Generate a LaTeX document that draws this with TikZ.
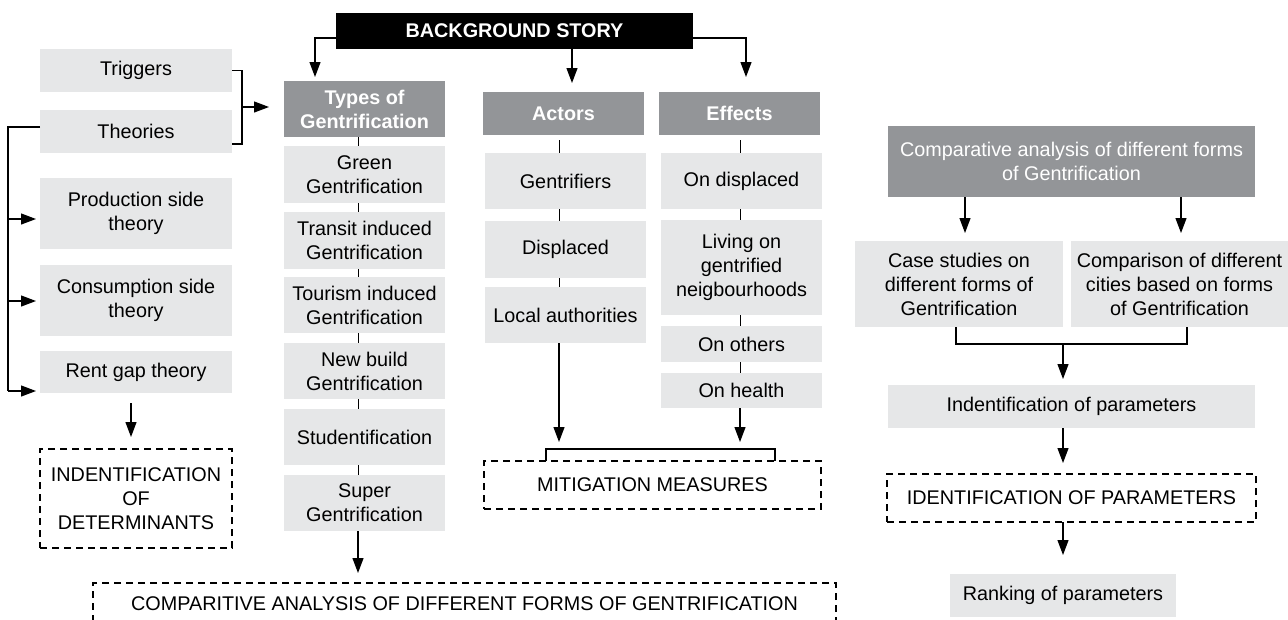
\documentclass[tikz,border=0pt]{standalone}
\usepackage{fontspec}
\setmainfont{Liberation Sans}
\usetikzlibrary{arrows.meta}
\definecolor{hdr}{RGB}{147,149,152}
\definecolor{lgr}{RGB}{230,231,232}
\begin{document}
\begin{tikzpicture}[x=1pt,y=-1pt,
  every node/.style={font=\fontsize{19.8}{24}\selectfont, align=center, inner sep=0pt, outer sep=0pt},
  lbox/.style={fill=lgr, text=black},
  hbox/.style={fill=hdr, text=white},
  bld/.style={font=\fontsize{19.8}{24}\selectfont\bfseries},
  dbox/.style={draw, dash pattern=on 7pt off 5pt, line width=1.2pt},
  arr/.style={-{Triangle[length=15pt,width=11pt]}, line width=1.2pt},
  ln/.style={line width=1.2pt}]
\useasboundingbox (0,0) rectangle (1288,619);

% top
\node[fill=black, text=white, bld, minimum width=357pt, minimum height=36pt] (bg) at (514.5,31) {BACKGROUND STORY};

% left column
\node[lbox, minimum width=192pt, minimum height=43pt] (trig) at (136,70.5) {Triggers};
\node[lbox, minimum width=192pt, minimum height=43pt] (theo) at (136,131.5) {Theories};
\node[lbox, minimum width=192pt, minimum height=71pt] (prod) at (136,213.5) {Production side\\theory};
\node[lbox, minimum width=192pt, minimum height=71pt] (cons) at (136,300.5) {Consumption side\\theory};
\node[lbox, minimum width=192pt, minimum height=42pt] (rent) at (136,372) {Rent gap theory};
\node[dbox, minimum width=192pt, minimum height=99pt] (det) at (136,498.5) {INDENTIFICATION\\OF\\DETERMINANTS};

% types column
\node[hbox, bld, minimum width=161pt, minimum height=56pt] (types) at (364.5,109) {Types of\\Gentrification};
\node[lbox, minimum width=161pt, minimum height=57pt] (green) at (364.5,174.5) {Green\\Gentrification};
\node[lbox, minimum width=161pt, minimum height=57pt] (transit) at (364.5,240.5) {Transit induced\\Gentrification};
\node[lbox, minimum width=161pt, minimum height=56pt] (tour) at (364.5,305) {Tourism induced\\Gentrification};
\node[lbox, minimum width=161pt, minimum height=56pt] (newb) at (364.5,371) {New build\\Gentrification};
\node[lbox, minimum width=161pt, minimum height=56pt] (stud) at (364.5,437) {Studentification};
\node[lbox, minimum width=161pt, minimum height=56pt] (super) at (364.5,503) {Super\\Gentrification};
\node[dbox, minimum width=743pt, minimum height=42pt] (comp) at (464.5,604) {COMPARITIVE ANALYSIS OF DIFFERENT FORMS OF GENTRIFICATION};

% actors column
\node[hbox, bld, minimum width=161pt, minimum height=43pt] (actors) at (563.5,113.5) {Actors};
\node[lbox, minimum width=161pt, minimum height=56pt] (gentr) at (565.5,181) {Gentrifiers};
\node[lbox, minimum width=161pt, minimum height=57pt] (displ) at (565.5,249.5) {Displaced};
\node[lbox, minimum width=161pt, minimum height=56pt] (local) at (565.5,315) {Local authorities};

% effects column
\node[hbox, bld, minimum width=161pt, minimum height=43pt] (effects) at (739.5,113.5) {Effects};
\node[lbox, minimum width=161pt, minimum height=56pt] (ondisp) at (741.5,181) {On displaced};
\node[lbox, minimum width=161pt, minimum height=95pt] (living) at (741.5,267.5) {Living on\\gentrified\\neigbourhoods};
\node[lbox, minimum width=161pt, minimum height=36pt] (others) at (741.5,344) {On others};
\node[lbox, minimum width=161pt, minimum height=35pt] (health) at (741.5,390.5) {On health};
\node[dbox, minimum width=337pt, minimum height=48pt] (mitig) at (652.5,485) {MITIGATION MEASURES};

% right part
\node[hbox, minimum width=367pt, minimum height=71pt] (cah) at (1071.5,161.5) {Comparative analysis of different forms\\of Gentrification};
\node[lbox, minimum width=208pt, minimum height=86pt] (case) at (959,284) {Case studies on\\different forms of\\Gentrification};
\node[lbox, minimum width=217pt, minimum height=86pt] (cmp) at (1179.5,284) {Comparison of different\\cities based on forms\\of Gentrification};
\node[lbox, minimum width=367pt, minimum height=43pt] (idp) at (1071.5,406.5) {Indentification of parameters};
\node[dbox, minimum width=369pt, minimum height=48pt] (IDP) at (1071.5,498) {IDENTIFICATION OF PARAMETERS};
\node[lbox, minimum width=226pt, minimum height=43pt] (rank) at (1063,595.5) {Ranking of parameters};

% connectors from background
\draw[arr] ([yshift=-7pt]bg.west) -| ([xshift=-49.5pt,yshift=4pt]types.north);
\draw[arr] ([xshift=57.5pt]bg.south) -- ([xshift=8.5pt,yshift=9pt]actors.north);
\draw[arr] ([yshift=-7pt]bg.east) -| ([xshift=6.5pt,yshift=15pt]effects.north);

% triggers/theories bracket
\draw[ln] (trig.east) -- ++(10,0) coordinate (bt) |- ([yshift=-12.5pt]theo.east);
\coordinate (bm) at (242,107);
\draw[arr] (bm) -- ([xshift=-15pt,yshift=2pt]types.west);

% theories to theory boxes
\coordinate (lt) at (8,127);
\coordinate (lp) at (8,219);
\coordinate (lc) at (8,301);
\coordinate (lb) at (8,391);
\draw[ln] ([yshift=4.5pt]theo.west) -- (lt) -- (lb);
\draw[arr] (lp) -- ([xshift=-4pt,yshift=-5.5pt]prod.west);
\draw[arr] (lc) -- ([xshift=-4pt,yshift=-0.5pt]cons.west);
\draw[arr] (lb) -- ([xshift=-4pt,yshift=-19pt]rent.west);
\draw[arr] ([xshift=-5pt,yshift=-10pt]rent.south) -- ([xshift=-5pt,yshift=12pt]det.north);

% types column links
\foreach \a/\b in {types/green,green/transit,transit/tour,tour/newb,newb/stud,stud/super}
  \draw[line width=1pt] ([xshift=-6.5pt]\a.south) -- ([xshift=-6.5pt]\b.north);
\draw[arr, shorten >=10pt] ([xshift=-6.5pt]super.south) -- ([xshift=-6.5pt]super.south |- comp.north);

% actors links
\draw[line width=1pt] ([xshift=-4.5pt,yshift=-5pt]actors.south) -- ([xshift=-6.5pt]gentr.north);
\draw[line width=1pt] ([xshift=-6.5pt]gentr.south) -- ([xshift=-6.5pt]displ.north);
\draw[line width=1pt] ([xshift=-6.5pt]displ.south) -- ([xshift=-6.5pt]local.north);
\draw[arr] ([xshift=-6.5pt]local.south) -- ([xshift=-6.5pt,yshift=-99pt]local.south);

% effects links
\draw[line width=1pt] ([xshift=0.5pt,yshift=-5pt]effects.south) -- ([xshift=-1.5pt]ondisp.north);
\draw[line width=1pt] ([xshift=-1.5pt]ondisp.south) -- ([xshift=-1.5pt]living.north);
\draw[line width=1pt] ([xshift=-1.5pt]living.south) -- ([xshift=-1.5pt]others.north);
\draw[line width=1pt] ([xshift=-1.5pt]others.south) -- ([xshift=-1.5pt]health.north);
\draw[arr] ([xshift=-1.5pt]health.south) -- ([xshift=-1.5pt,yshift=-34pt]health.south);

% mitigation bracket
\draw[ln] ([xshift=-106.5pt]mitig.north) -- ++(0,-12) -- ++(229,0) -- ++(0,12);

% right connectors
\draw[arr] ([xshift=-106.5pt]cah.south) -- ([xshift=-106.5pt,yshift=-36pt]cah.south);
\draw[arr] ([xshift=109.5pt]cah.south) -- ([xshift=109.5pt,yshift=-36pt]cah.south);
\coordinate (rb) at (1063,344);
\draw[ln] ([xshift=-3pt]case.south) |- (rb) -| ([xshift=7.5pt]cmp.south);
\draw[arr, shorten >=6pt] (rb) -- (rb |- idp.north);
\draw[arr, shorten >=11pt] ([xshift=-8.5pt]idp.south) -- ([xshift=-8.5pt]idp.south |- IDP.north);
\draw[arr, shorten >=19pt] ([xshift=-8.5pt]IDP.south) -- ([xshift=-8.5pt]IDP.south |- rank.north);
\end{tikzpicture}
\end{document}
